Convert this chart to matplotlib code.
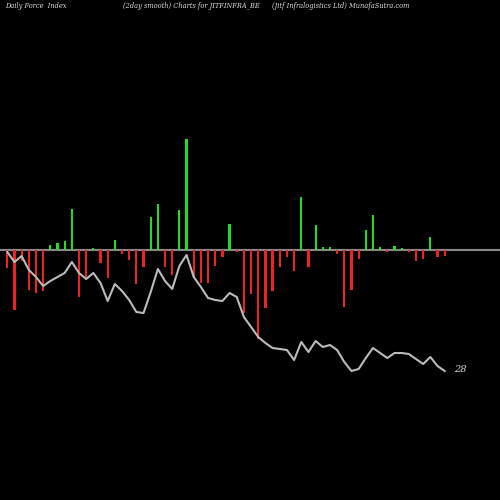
import numpy as np
import matplotlib
matplotlib.use('Agg')
import matplotlib.pyplot as plt

# force index bars (px above zero line) and smoothed line (px from top)
force = [-18, -60, -11, -40, -43, -41, 5, 7, 9, 41, -47, -27, 2, -13, -28, 10, -4, -10, -34, -17,
         33, 46, -17, -25, 40, 111, -27, -33, -33, -16, -7, 26, -2, -63, -44, -89, -58, -41, -17, -7,
         -21, 53, -17, 25, 3, 3, -4, -57, -40, -9, 20, 35, 3, -2, 4, 2, -2, -11, -9, 13, -7, -6]
smooth = [252, 262, 256, 270, 277, 286, 281, 277, 273, 262, 273, 279, 273, 283, 301, 284, 291, 300, 312, 313,
          292, 269, 281, 289, 266, 255, 277, 287, 298, 300, 301, 293, 297, 317, 327, 337, 343, 348, 349, 350,
          360, 342, 352, 341, 347, 345, 350, 362, 371, 369, 358, 348, 353, 358, 353, 353, 354, 359, 364, 357,
          366, 371]
last_label = "28"

zero_y = 249.5
x = 7.3 + 7.17 * np.arange(len(force))
f = np.array(force)

fig = plt.figure(figsize=(5, 5), dpi=100)
fig.patch.set_facecolor('black')
ax = fig.add_axes([0, 0, 1, 1])
ax.set_facecolor('black')
ax.set_xlim(0, 500)
ax.set_ylim(500, 0)
ax.axis('off')

ax.axhline(zero_y, color='#888888', linewidth=1.5, zorder=1)
colors = np.where(f > 0, '#22dd22', '#ee2222')
ax.bar(x, -f, bottom=zero_y, width=2.2, color=colors, zorder=2)
ax.plot(x, smooth, color='#bbbbbb', linewidth=1.5, zorder=3)
ax.text(x[-1] + 9, smooth[-1] - 2, last_label, color='#dddddd', fontsize=7,
        family='DejaVu Serif', style='italic', va='center')

tkw = dict(color='#dddddd', fontsize=4.8, family='DejaVu Serif', style='italic', va='center')
ax.text(5, 6, "Daily Force  Index", **tkw)
ax.text(123, 6, "(2day smooth) Charts for JITFINFRA_BE", **tkw)
ax.text(272, 6, "(Jitf Infralogistics Ltd) MunafaSutra.com", **tkw)

fig.savefig('out.png', dpi=100, facecolor='black')
